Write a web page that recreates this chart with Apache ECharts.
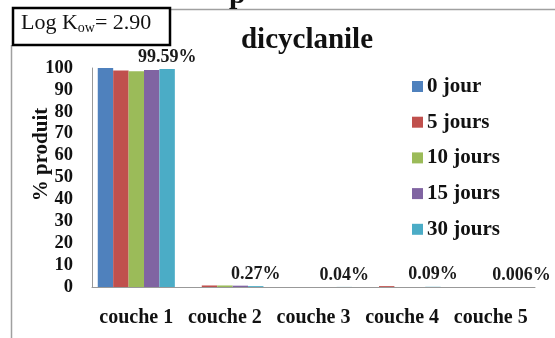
<!DOCTYPE html>
<html>
<head>
<meta charset="utf-8">
<script src="https://cdn.jsdelivr.net/npm/echarts@6/dist/echarts.min.js"></script>
<style>
  html, body { margin:0; padding:0; background:#fff; }
  #chart { width:555px; height:338px; }
</style>
</head>
<body>
<div id="chart"></div>
<script>
	var categories = ['couche 1', 'couche 2', 'couche 3', 'couche 4', 'couche 5'];
	var seriesNames = ['0 jour', '5 jours', '10 jours', '15 jours', '30 jours'];
	var jour0 = [100, 0, 0, 0, 0];
	var jours5 = [98.9, 0.7, 0, 0.4, 0];
	var jours10 = [98.5, 0.7, 0, 0, 0];
	var jours15 = [99.1, 0.6, 0, 0, 0];
	var jours30 = [99.59, 0.4, 0.04, 0.09, 0.006];
	var pctLabels = ['99.59%', '0.27%', '0.04%', '0.09%', '0.006%'];
	var colors = ['#4F81BD', '#C0504D', '#9BBB59', '#8064A2', '#4BACC6'];
	var allData = [jour0, jours5, jours10, jours15, jours30];

	var font = '"Liberation Serif", "DejaVu Serif", serif';

	var seriesA = [];
	for (var i = 0; i < seriesNames.length; i++) {
		var obj = {
			name: seriesNames[i],
			type: 'bar',
			data: allData[i],
			barGap: '0%',
			barCategoryGap: '13%',
			itemStyle: { color: colors[i] }
		};
		if (i == 4) {
			obj.label = {
				show: true,
				position: 'top',
				distance: 3,
				fontFamily: font,
				fontWeight: 'bold',
				fontSize: 18,
				color: '#1a1a1a',
				formatter: function (p) { return pctLabels[p.dataIndex]; }
			};
		}
		seriesA.push(obj);
	}

	var myChart = echarts.init(document.getElementById('chart'));
	var option = {
		animation: false,
		backgroundColor: '#fff',
		title: {
			text: 'dicyclanile',
			left: 302,
			top: 21,
			textAlign: 'center',
			textStyle: { fontFamily: font, fontWeight: 'bold', fontSize: 29, color: '#111' }
		},
		legend: {
			orient: 'vertical',
			left: 407,
			top: 71,
			itemWidth: 11,
			itemHeight: 11,
			itemGap: 14.7,
			icon: 'rect',
			textStyle: { fontFamily: font, fontWeight: 'bold', fontSize: 21, lineHeight: 21, color: '#111', padding: [0, 0, 0, -1] },
			data: seriesNames
		},
		grid: { left: 92, right: 20, top: 68, bottom: 51 },
		xAxis: {
			type: 'category',
			data: categories,
			axisLine: { lineStyle: { color: '#999' } },
			axisTick: { show: false },
			axisLabel: { interval: 0, fontFamily: font, fontWeight: 'bold', fontSize: 20, color: '#111', margin: 21 }
		},
		yAxis: {
			type: 'value',
			min: 0,
			max: 100,
			interval: 10,
			name: '% produit',
			nameLocation: 'middle',
			nameGap: 40,
			nameMoveOverlap: false,
			nameTextStyle: { fontFamily: font, fontWeight: 'bold', fontSize: 21, color: '#111', padding: [0, 0, 0, 46] },
			axisLine: { show: true, lineStyle: { color: '#999' } },
			axisTick: { show: false },
			splitLine: { show: false },
			axisLabel: { fontFamily: font, fontWeight: 'bold', fontSize: 18.5, color: '#111', margin: 19 }
		},
		graphic: [
			{ type: 'line', shape: { x1: 170, y1: 9.5, x2: 555, y2: 9.5 }, style: { stroke: '#a0a0a0', lineWidth: 1.5 } },
			{ type: 'line', shape: { x1: 11.5, y1: 45, x2: 11.5, y2: 338 }, style: { stroke: '#a0a0a0', lineWidth: 1.5 } },
			{ type: 'text', left: 229, top: -20, style: { text: 'p', font: 'bold 30px ' + font, fill: '#111' } },
			{ type: 'rect', shape: { x: 13, y: 8, width: 157, height: 37 }, style: { fill: '#fff', stroke: '#000', lineWidth: 2.5 } },
			{
				type: 'text', left: 21, top: 12,
				style: {
					text: '{a|Log K}{b|ow}{a|= 2.90}',
					rich: {
						a: { fontFamily: font, fontSize: 22, fill: '#111', color: '#111' },
						b: { fontFamily: font, fontSize: 14, fill: '#111', color: '#111', padding: [10, 0, 0, 0] }
					}
				}
			}
		],
		series: seriesA
	};
	myChart.setOption(option);
</script>
</body>
</html>
